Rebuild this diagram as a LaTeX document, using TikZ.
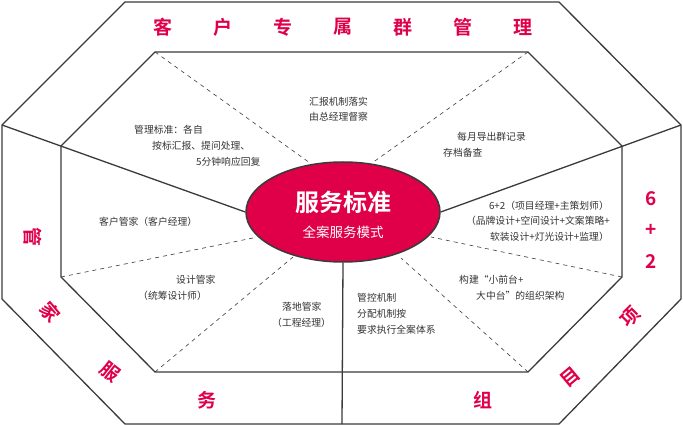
\documentclass[tikz,border=0pt]{standalone}
\usepackage{fontspec}
\usetikzlibrary{shapes.geometric}
\setmainfont{Noto Sans CJK SC}
\newfontfamily\boldcjk{Noto Sans CJK SC Bold}
\definecolor{rd}{HTML}{E0004A}
\definecolor{ln}{HTML}{3A3A3A}
\definecolor{tx}{HTML}{333333}
\begin{document}
\begin{tikzpicture}[x=1pt,y=-1pt,
  edge/.style={draw=ln,line width=1.3pt,line join=round},
  dsh/.style={draw=ln,line width=0.6pt,dash pattern=on 4pt off 4pt},
  body/.style={text=tx,font=\fontsize{9.8}{12}\selectfont,inner sep=0pt},
  red/.style={text=rd,font=\boldcjk\fontsize{19}{20}\selectfont,inner sep=0pt}]
\useasboundingbox (0,0) rectangle (683,425);
% outer and inner octagons
\draw[edge] (125,2) -- (559,2) -- (681,125) -- (681,299) -- (559,424) -- (125,424) -- (2,299) -- (2,125) -- cycle;
\draw[edge] (155,52) -- (528,52) -- (622,146) -- (622,277) -- (528,372) -- (155,372) -- (61,277) -- (61,146) -- cycle;
% ellipse
\node[ellipse,minimum width=194pt,minimum height=100pt,fill=rd,draw=ln,line width=1.5pt,inner sep=0pt] (c) at (343,212) {};
\coordinate (ol) at (2,125); \coordinate (or) at (681,125); \coordinate (ob) at (342,424);
\draw[edge] (ol) -- (c.180); \draw[edge] (or) -- (c.0); \draw[edge] (c.270) -- (ob);
\coordinate (i1) at (155,52); \coordinate (i2) at (528,52); \coordinate (i3) at (61,277);
\coordinate (i4) at (622,277); \coordinate (i5) at (155,372); \coordinate (i6) at (528,372);
\draw[dsh] (i1) -- (310,163); \draw[dsh] (i2) -- (372,163);
\draw[dsh] (i3) -- (253,238); \draw[dsh] (i4) -- (431,237);
\draw[dsh] (i5) -- (293,257); \draw[dsh] (i6) -- (401,258);
\node[text=white,font=\boldcjk\fontsize{24}{26}\selectfont] (t1) at (343,202) {服务标准};
\node[text=white,font=\fontsize{13.5}{15}\selectfont] (t2) at (343,232) {全案服务模式};
% title
\foreach \ch [count=\i from 0] in {客,户,专,属,群,管,理}
  \node[red] (h\i) at (163+60*\i,27) {\ch};
\node[red,rotate=-90] (l1) at (33,237) {管};
\node[red,rotate=-50] (l2) at (50,312) {家};
\node[red,rotate=-38] (l3) at (110,372) {服};
\node[red] (l4) at (207,400) {务};
\node[red] (r1) at (651,199) {6};
\node[red] (r2) at (651,230) {+};
\node[red] (r3) at (651,262) {2};
\node[red,rotate=45] (r4) at (630,317) {项};
\node[red,rotate=40] (r5) at (570,377) {目};
\node[red] (r6) at (483,400) {组};
% body texts
\node[body,anchor=west] (a1) at (309,102) {汇报机制落实};
\node[body,anchor=west] (a2) at (309,117) {由总经理督察};
\node[body,anchor=west] (b1) at (134,130) {管理标准：各自};
\node[body,anchor=west] (b2) at (152,146) {按标汇报、提问处理、};
\node[body,anchor=west] (b3) at (196,162) {5分钟响应回复};
\node[body,anchor=west] (m1) at (457,137) {每月导出群记录};
\node[body,anchor=west] (m2) at (443,153) {存档备查};
\node[body,anchor=west] (k1) at (99,222) {客户管家（客户经理）};
\node[body,anchor=east] (p1) at (609,206) {6+2（项目经理+主策划师）};
\node[body,anchor=east] (p2) at (610,221) {（品牌设计+空间设计+文案策略+};
\node[body,anchor=east] (p3) at (609,237) {软装设计+灯光设计+监理）};
\node[body,anchor=west] (s1) at (176,280) {设计管家};
\node[body,anchor=west] (s2) at (138,296) {（统筹设计师）};
\node[body,anchor=west] (d1) at (282,307) {落地管家};
\node[body,anchor=west] (d2) at (272,323) {（工程经理）};
\node[body,anchor=west] (g1) at (357,298) {管控机制};
\node[body,anchor=west] (g2) at (357,314) {分配机制按};
\node[body,anchor=west] (g3) at (357,330) {要求执行全案体系};
\node[body,anchor=west] (j1) at (459,280) {构建“小前台+};
\node[body,anchor=west] (j2) at (476,296) {大中台”的组织架构};
\end{tikzpicture}
\end{document}
